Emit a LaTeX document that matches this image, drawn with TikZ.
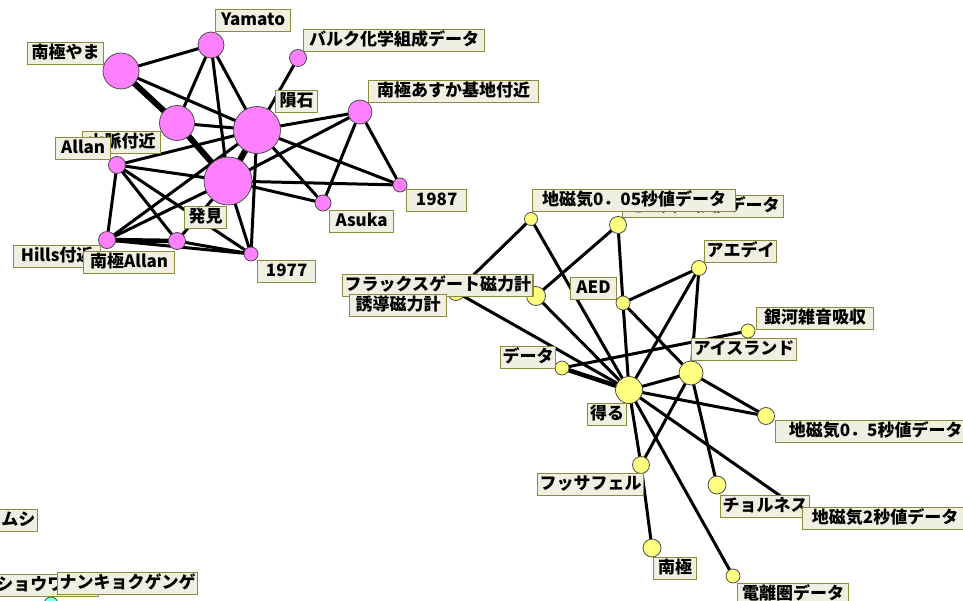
\documentclass[tikz,border=0pt]{standalone}
\usepackage{fontspec}
\setmainfont{Noto Sans CJK JP}
\usetikzlibrary{backgrounds}
\definecolor{pinkc}{RGB}{255,128,255}
\definecolor{yelc}{RGB}{255,255,128}
\definecolor{cyc}{RGB}{128,255,255}
\definecolor{labf}{RGB}{240,240,226}
\definecolor{labb}{RGB}{140,140,60}
\tikzset{
  edge/.style={line width=3pt, black},
  thk/.style={line width=6pt, black},
  mid/.style={line width=4.5pt, black},
  pk/.style={circle, draw=black!70, line width=0.8pt, fill=pinkc, inner sep=0pt},
  yl/.style={circle, draw=black!70, line width=0.8pt, fill=yelc, inner sep=0pt},
  cy/.style={circle, draw=black!70, line width=0.8pt, fill=cyc, inner sep=0pt},
  lab/.style={draw=labb, fill=labf, line width=1.3pt, inner xsep=2pt, inner ysep=1pt,
    font=\fontsize{17}{18}\selectfont\bfseries, text height=14pt, text depth=3.5pt,
    minimum height=22pt, anchor=north west}
}
\begin{document}
\begin{tikzpicture}[x=1pt,y=-1pt]
\useasboundingbox (0,0) rectangle (963,601);
\clip (0,0) rectangle (963,601);
% pink nodes
\node[pk, minimum size=36pt] (M) at (121,71) {};
\node[pk, minimum size=26pt] (Y) at (211,45) {};
\node[pk, minimum size=17pt] (B) at (298,58) {};
\node[pk, minimum size=47pt] (I) at (257,130) {};
\node[pk, minimum size=35pt] (S) at (177,123) {};
\node[pk, minimum size=17pt] (A) at (117,165) {};
\node[pk, minimum size=48pt] (H) at (228,181) {};
\node[pk, minimum size=17pt] (Hi) at (107,240) {};
\node[pk, minimum size=17pt] (NA) at (177,241) {};
\node[pk, minimum size=14pt] (N77) at (251,254) {};
\node[pk, minimum size=16pt] (Ak) at (323,203) {};
\node[pk, minimum size=14pt] (N87) at (400,185) {};
\node[pk, minimum size=24pt] (As) at (360,112) {};
% yellow nodes
\node[yl, minimum size=13pt] (G05) at (531,219) {};
\node[yl, minimum size=17pt] (G1) at (618,225) {};
\node[yl, minimum size=19pt] (FG) at (536,296) {};
\node[yl, minimum size=17pt] (YD) at (456,292) {};
\node[yl, minimum size=14pt] (AED) at (623,303) {};
\node[yl, minimum size=15pt] (AE) at (699,268) {};
\node[yl, minimum size=14pt] (GN) at (748,331) {};
\node[yl, minimum size=24pt] (IS) at (691,373) {};
\node[yl, minimum size=14pt] (D) at (562,368) {};
\node[yl, minimum size=27pt] (U) at (629,390) {};
\node[yl, minimum size=17pt] (G5) at (766,416) {};
\node[yl, minimum size=17pt] (FS) at (641,465) {};
\node[yl, minimum size=18pt] (CH) at (717,485) {};
\node[yl, minimum size=12pt] (G2) at (789,502) {};
\node[yl, minimum size=18pt] (NK) at (652,548) {};
\node[yl, minimum size=14pt] (DR) at (733,576) {};
\node[cy, minimum size=14pt] (C1) at (51,604) {};
% edges
\begin{scope}[on background layer]
\path (M.center) edge[edge] (Y.center)
      (M.center) edge[thk] (S.center)
      (M.center) edge[edge] (I.center)
      (S.center) edge[thk] (H.center)
      (Y.center) edge[edge] (S.center)
      (Y.center) edge[edge] (H.center)
      (Y.center) edge[edge] (I.center)
      (B.center) edge[edge] (I.center)
      (S.center) edge[edge] (I.center)
      (I.center) edge[thk] (H.center)
      (A.center) edge[edge] (I.center)
      (A.center) edge[edge] (H.center)
      (A.center) edge[edge] (Hi.center)
      (A.center) edge[edge] (NA.center)
      (A.center) edge[edge] (N77.center)
      (Hi.center) edge[edge] (H.center)
      (Hi.center) edge[edge] (I.center)
      (Hi.center) edge[mid] (NA.center)
      (Hi.center) edge[edge] (N77.center)
      (NA.center) edge[edge] (H.center)
      (NA.center) edge[edge] (N77.center)
      (H.center) edge[edge] (N77.center)
      (I.center) edge[edge] (N77.center)
      (H.center) edge[edge] (Ak.center)
      (I.center) edge[edge] (Ak.center)
      (I.center) edge[edge] (As.center)
      (H.center) edge[edge] (As.center)
      (I.center) edge[edge] (N87.center)
      (H.center) edge[edge] (N87.center)
      (As.center) edge[edge] (N87.center)
      (As.center) edge[edge] (Ak.center);
\path (G05.center) edge[edge] (YD.center)
      (G05.center) edge[edge] (U.center)
      (G1.center) edge[edge] (FG.center)
      (G1.center) edge[edge] (AED.center)
      (AED.center) edge[edge] (U.center)
      (YD.center) edge[edge] (U.center)
      (FG.center) edge[edge] (U.center)
      (AED.center) edge[edge] (AE.center)
      (AED.center) edge[edge] (IS.center)
      (AE.center) edge[edge] (U.center)
      (AE.center) edge[edge] (IS.center)
      (D.center) edge[edge] (GN.center)
      (D.center) edge[mid] (U.center)
      (U.center) edge[edge] (IS.center)
      (U.center) edge[edge] (G5.center)
      (IS.center) edge[edge] (G5.center)
      (IS.center) edge[edge] (FS.center)
      (IS.center) edge[edge] (CH.center)
      (U.center) edge[edge] (FS.center)
      (FS.center) edge[edge] (NK.center)
      (U.center) edge[edge] (DR.center)
      (U.center) edge[edge] (G2.center);
\end{scope}
% pink labels
\node[lab, minimum width=76pt] (lM) at (27,42) {南極やま};
\node[lab, minimum width=75pt] (lY) at (215,9) {Yamato};
\node[lab, minimum width=181pt] (lB) at (303,29) {バルク化学組成データ};
\node[lab, minimum width=42pt] (lI) at (275,90) {隕石};
\node[lab, minimum width=78pt] (lS) at (82,131) {山脈付近};
\node[lab, minimum width=55pt] (lA) at (55,137) {Allan};
\node[lab, minimum width=42pt] (lH) at (184,206) {発見};
\node[lab, minimum width=87pt] (lHi) at (13,245) {Hills付近};
\node[lab, minimum width=91pt] (lNA) at (83,251) {南極Allan};
\node[lab, minimum width=58pt] (l77) at (257,260) {1977};
\node[lab, minimum width=60pt] (l87) at (406,189) {1987};
\node[lab, minimum width=64pt] (lAk) at (329,210) {Asuka};
\node[lab, minimum width=170pt] (lAs) at (368,80) {南極あすか基地付近};
% yellow labels
\node[lab, minimum width=161pt] (lG1) at (622,195) {地磁気１秒値データ};
\node[lab, minimum width=203pt] (lG05) at (532,189) {地磁気0．05秒値データ};
\node[lab, minimum width=183pt] (lFG) at (342,274) {フラックスゲート磁力計};
\node[lab, minimum width=97pt] (lYD) at (349,294) {誘導磁力計};
\node[lab, minimum width=46pt] (lAED) at (570,277) {AED};
\node[lab, minimum width=72pt] (lAE) at (704,240) {アエデイ};
\node[lab, minimum width=117pt] (lGN) at (756,307) {銀河雑音吸収};
\node[lab, minimum width=101pt] (lIS) at (691,338) {アイスランド};
\node[lab, minimum width=54pt] (lD) at (500,346) {データ};
\node[lab, minimum width=39pt] (lU) at (587,403) {得る};
\node[lab, minimum width=200pt] (lG5) at (775,420) {地磁気0．5秒値データ};
\node[lab, minimum width=100pt] (lFS) at (537,473) {フッサフェル};
\node[lab, minimum width=88pt] (lCH) at (720,495) {チョルネス};
\node[lab, minimum width=165pt] (lG2) at (802,507) {地磁気2秒値データ};
\node[lab, minimum width=43pt] (lNK) at (653,557) {南極};
\node[lab, minimum width=111pt] (lDR) at (737,583) {電離圏データ};
% bottom-left labels
\node[lab, anchor=north east, text width=60pt, align=right] (lMu) at (38,509) {ムシ};
\node[lab, anchor=north east, text width=109pt, align=left] (lSh) at (99,574) {\hspace*{9pt}ショウワ};
\node[lab, minimum width=134pt] (lNKG) at (57,572) {ナンキョクゲンゲ};
\end{tikzpicture}
\end{document}
